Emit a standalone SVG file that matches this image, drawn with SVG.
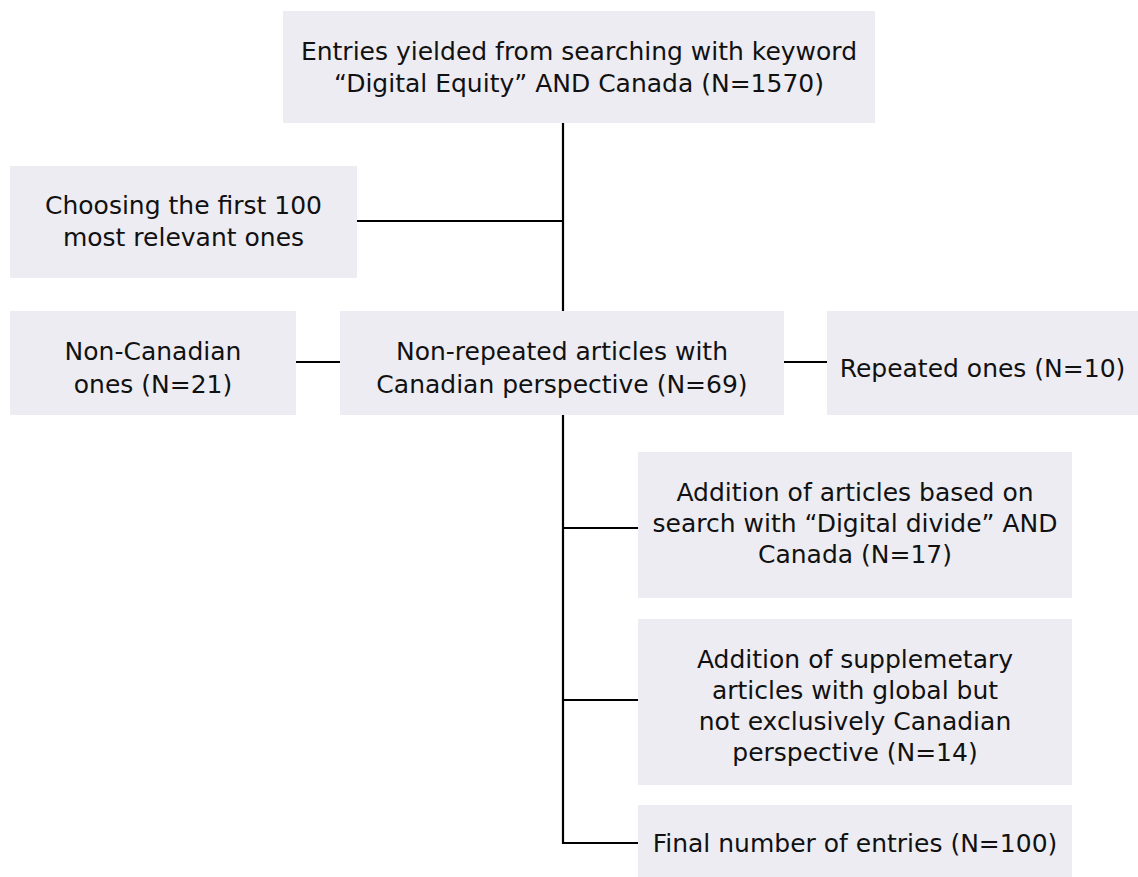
<svg xmlns="http://www.w3.org/2000/svg" width="1138" height="877" viewBox="0 0 1138 877">
<style>
.box{fill:#EDECF2;}
.t{font-family:"DejaVu Sans","Liberation Sans",sans-serif;font-size:25px;fill:#111;text-anchor:middle;}
.c{stroke:#000;stroke-width:2.2;fill:none;}
</style>
<rect width="1138" height="877" fill="#fff"/>
<g id="connectors">
<path class="c" d="M563 123V311M357 221H563M296 362H340M784 362H827M563 415V843H638M563 528H638M563 700H638"/>
</g>
<g id="n1"><rect class="box" x="283" y="11" width="592" height="112"/>
<text class="t" x="579" y="60">Entries yielded from searching with keyword</text>
<text class="t" x="579" y="92">“Digital Equity” AND Canada (N=1570)</text></g>
<g id="n2"><rect class="box" x="10" y="166" width="347" height="112"/>
<text class="t" x="183.5" y="214">Choosing the first 100</text>
<text class="t" x="183.5" y="246">most relevant ones</text></g>
<g id="n3"><rect class="box" x="10" y="311" width="286" height="104"/>
<text class="t" x="153" y="360">Non-Canadian</text>
<text class="t" x="153" y="393">ones (N=21)</text></g>
<g id="n4"><rect class="box" x="340" y="311" width="444" height="104"/>
<text class="t" x="562" y="360">Non-repeated articles with</text>
<text class="t" x="562" y="393">Canadian perspective (N=69)</text></g>
<g id="n5"><rect class="box" x="827" y="311" width="311" height="104"/>
<text class="t" x="982.5" y="377">Repeated ones (N=10)</text></g>
<g id="n6"><rect class="box" x="638" y="452" width="434" height="146"/>
<text class="t" x="855" y="501">Addition of articles based on</text>
<text class="t" x="855" y="532">search with “Digital divide” AND</text>
<text class="t" x="855" y="563">Canada (N=17)</text></g>
<g id="n7"><rect class="box" x="638" y="619" width="434" height="166"/>
<text class="t" x="855" y="668">Addition of supplemetary</text>
<text class="t" x="855" y="699">articles with global but</text>
<text class="t" x="855" y="730">not exclusively Canadian</text>
<text class="t" x="855" y="761">perspective (N=14)</text></g>
<g id="n8"><rect class="box" x="638" y="805" width="434" height="76"/>
<text class="t" x="855" y="852">Final number of entries (N=100)</text></g>
</svg>
